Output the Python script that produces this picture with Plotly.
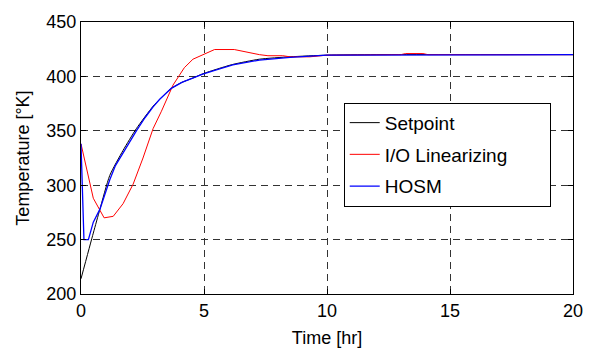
import plotly.graph_objects as go

# Setpoint trajectory
t_set = [0, 0.5, 0.77, 1.17, 1.71, 2.25, 2.93, 3.2, 3.67, 4.1, 4.55, 4.95, 5.5, 6.17, 7.25, 8.5, 10, 12, 20]
y_set = [214, 256, 278, 309, 332, 352, 372.6, 379, 389, 394.5, 398.5, 402.4, 406.5, 411, 415.8, 418, 419.5, 420, 420]

# I/O Linearizing controller response
t_io = [0, 0.5, 0.94, 1.31, 1.71, 2.12, 2.52, 2.93, 3.27, 3.74, 4.0, 4.2, 4.55, 4.95, 5.43,
        6.23, 6.7, 7.25, 7.6, 8.2, 8.5, 9.3, 10, 10.8, 11, 13, 13.2, 13.9, 14.1, 20]
y_io = [338, 288, 270, 271.4, 283, 301, 325, 352, 368, 392, 401, 408, 415.8, 420, 424.7,
        424.7, 422.3, 420, 419, 419, 418, 418, 419.5, 419.5, 420, 420, 421, 421, 420, 420]

# HOSM controller response
t_hosm = [0, 0.12, 0.3, 0.5, 0.77, 1.0, 1.17, 1.4, 1.71, 2.0, 2.25, 2.6, 2.93, 3.2, 3.67,
          4.1, 4.55, 4.95, 5.5, 6.17, 7.25, 8.5, 10, 20]
y_hosm = [338, 250, 250, 266, 278, 294, 305, 318, 330, 341, 350, 362, 372, 379, 389,
          394.5, 398.5, 402, 406, 410.5, 415, 417.5, 419.5, 420]

x_ticks = [0, 5, 10, 15, 20]
y_ticks = [200, 250, 300, 350, 400, 450]

pad = "\u00a0" * 7  # invisible padding to widen the legend box

fig = go.Figure()
fig.add_trace(go.Scatter(x=t_set, y=y_set, mode="lines", name="Setpoint",
                         line=dict(color="black", width=1, shape="spline", smoothing=0.6),
                         legendgroup="a"))
fig.add_trace(go.Scatter(x=t_io, y=y_io, mode="lines", name="I/O Linearizing" + pad,
                         line=dict(color="red", width=1), legendgroup="b"))
fig.add_trace(go.Scatter(x=t_hosm, y=y_hosm, mode="lines", name="HOSM",
                         line=dict(color="blue", width=1.3), legendgroup="c"))

font = "Liberation Sans, Arial, sans-serif"
axis_common = dict(showline=True, linecolor="black", linewidth=1, mirror="ticks",
                   ticks="inside", ticklen=5, tickcolor="black",
                   showgrid=True, gridcolor="#333", griddash="7px,5px", gridwidth=1,
                   zeroline=False, tickfont=dict(family=font, size=18, color="black"))

fig.update_layout(
    width=595, height=356,
    margin=dict(l=81, r=20, t=15, b=61),
    paper_bgcolor="white", plot_bgcolor="white",
    font=dict(family=font, size=18, color="black"),
    xaxis=dict(range=[0, 20], tickvals=x_ticks, **axis_common,
               title=dict(text="Time [hr]", font=dict(family=font, size=18), standoff=11)),
    yaxis=dict(range=[200, 450], tickvals=y_ticks, **axis_common,
               title=dict(text="Temperature [°K]", font=dict(family=font, size=18), standoff=12)),
    legend=dict(x=0.534, y=0.703, xanchor="left", yanchor="top",
                bgcolor="white", bordercolor="black", borderwidth=1,
                font=dict(family=font, size=19, color="black"),
                traceorder="grouped", tracegroupgap=4),
    showlegend=True,
)

fig.write_html("out.html")
